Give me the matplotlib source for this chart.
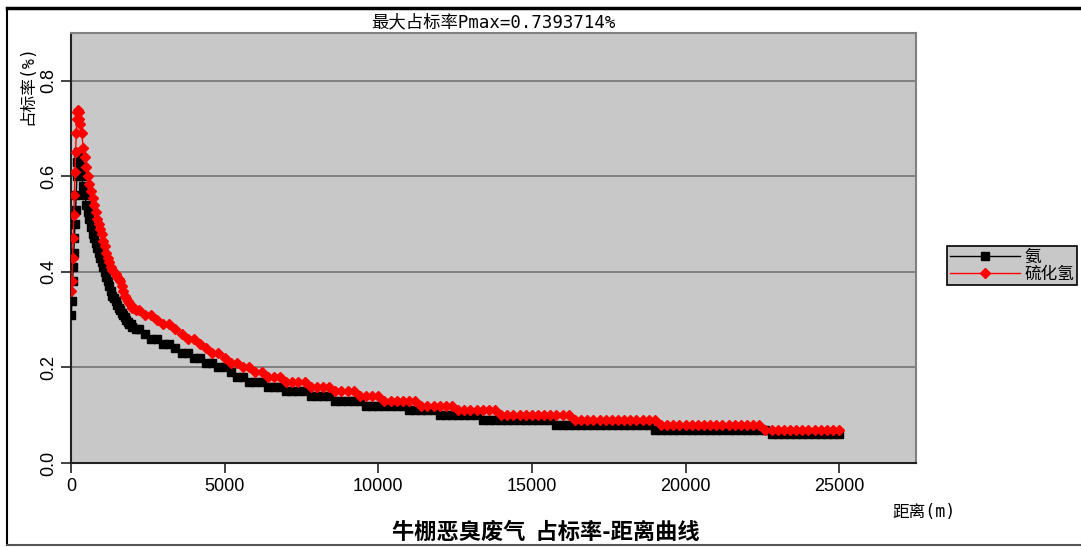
import matplotlib
matplotlib.use("Agg")
import matplotlib.pyplot as plt
from matplotlib.lines import Line2D

plt.rcParams['font.family'] = ['Liberation Sans', 'Noto Sans CJK SC', 'DejaVu Sans']

# distances (m): fine steps near the source, then the 200 m receptor grid
near_dist = ([10, 30, 50, 70, 90, 110, 130, 150, 170, 190, 210, 230, 250, 275]
             + list(range(300, 2001, 50)) + [2100])
far_dist = list(range(2200, 25001, 200))
dist = near_dist + far_dist

# 氨 (ammonia) occupancy rate, %
nh3_near = [0.31, 0.34, 0.38, 0.41, 0.44, 0.47, 0.50, 0.53, 0.56, 0.60, 0.63, 0.65,
            0.645, 0.63,
            0.62, 0.60, 0.58, 0.56, 0.54, 0.525, 0.51, 0.495, 0.48, 0.47,
            0.46, 0.45, 0.44, 0.43, 0.42, 0.41, 0.40, 0.39, 0.38, 0.37,
            0.36, 0.35, 0.345, 0.34, 0.33, 0.325, 0.32, 0.315, 0.31, 0.305,
            0.30, 0.295, 0.29, 0.29, 0.285,
            0.28]
nh3_far = [0.28, 0.27, 0.26, 0.26, 0.25, 0.25, 0.24, 0.23, 0.23, 0.22,
           0.22, 0.21, 0.21, 0.20, 0.20, 0.19, 0.18, 0.18, 0.17, 0.17,
           0.17, 0.16, 0.16, 0.16, 0.15, 0.15, 0.15, 0.15, 0.14,
           0.14, 0.14, 0.14,
           0.13, 0.13, 0.13, 0.13, 0.13,
           0.12, 0.12, 0.12, 0.12, 0.12, 0.12, 0.12,
           0.11, 0.11, 0.11, 0.11, 0.11,
           0.10, 0.10, 0.10, 0.10, 0.10, 0.10, 0.10,
           0.09, 0.09, 0.09, 0.09, 0.09, 0.09, 0.09, 0.09, 0.09, 0.09, 0.09, 0.09,
           0.08, 0.08, 0.08, 0.08, 0.08, 0.08, 0.08, 0.08,
           0.08, 0.08, 0.08, 0.08, 0.08, 0.08, 0.08, 0.08,
           0.07, 0.07, 0.07, 0.07, 0.07, 0.07, 0.07, 0.07, 0.07, 0.07,
           0.07, 0.07, 0.07, 0.07, 0.07, 0.07, 0.07, 0.07, 0.07,
           0.06, 0.06, 0.06, 0.06, 0.06, 0.06, 0.06, 0.06, 0.06, 0.06, 0.06, 0.06]

# 硫化氢 (hydrogen sulfide) occupancy rate, %
h2s_near = [0.36, 0.38, 0.43, 0.47, 0.52, 0.56, 0.61, 0.65, 0.69, 0.72, 0.735, 0.7394,
            0.735, 0.72,
            0.71, 0.69, 0.66, 0.64, 0.62, 0.60, 0.585, 0.57, 0.555, 0.54,
            0.525, 0.51, 0.50, 0.49, 0.48, 0.465, 0.455, 0.44, 0.43, 0.42,
            0.41, 0.405, 0.40, 0.395, 0.39, 0.385, 0.38, 0.37, 0.36, 0.35,
            0.345, 0.34, 0.335, 0.33, 0.325,
            0.32]
h2s_far = [0.32, 0.31, 0.31, 0.30, 0.29, 0.29, 0.28, 0.27, 0.26, 0.26,
           0.25, 0.24, 0.23, 0.23, 0.22, 0.21, 0.21, 0.20, 0.20, 0.19,
           0.19, 0.18, 0.18, 0.18, 0.17, 0.17, 0.17, 0.17,
           0.16, 0.16, 0.16, 0.16,
           0.15, 0.15, 0.15, 0.15,
           0.14, 0.14, 0.14, 0.14,
           0.13, 0.13, 0.13, 0.13, 0.13, 0.13,
           0.12, 0.12, 0.12, 0.12, 0.12, 0.12,
           0.11, 0.11, 0.11, 0.11, 0.11, 0.11, 0.11,
           0.10, 0.10, 0.10, 0.10, 0.10, 0.10, 0.10, 0.10, 0.10, 0.10, 0.10, 0.10,
           0.09, 0.09, 0.09, 0.09, 0.09, 0.09, 0.09, 0.09, 0.09, 0.09, 0.09, 0.09, 0.09, 0.09,
           0.08, 0.08, 0.08, 0.08, 0.08, 0.08, 0.08, 0.08, 0.08,
           0.08, 0.08, 0.08, 0.08, 0.08, 0.08, 0.08, 0.08,
           0.07, 0.07, 0.07, 0.07, 0.07, 0.07, 0.07, 0.07, 0.07, 0.07, 0.07, 0.07, 0.07]

nh3 = nh3_near + nh3_far
h2s = h2s_near + h2s_far

series_names = ["氨", "硫化氢"]
x_ticks = [0, 5000, 10000, 15000, 20000, 25000]
y_ticks = [0.0, 0.2, 0.4, 0.6, 0.8]
pmax = 0.7393714

cjk = ['Noto Sans CJK SC', 'DejaVu Sans']
mono_cjk = ['DejaVu Sans Mono', 'Noto Sans CJK SC']  # half-width latin like SimSun

fig = plt.figure(figsize=(10.81, 5.47), dpi=100)
ax = fig.add_axes([71/1081, 1 - 463/547, 845/1081, 430/547])
ax.set_facecolor("#c8c8c8")

ax.plot(dist, nh3, color="black", lw=1, marker="s", ms=6, mec="black", mfc="black", zorder=3)
ax.plot(dist, h2s, color="red", lw=1, marker="D", ms=5, mec="red", mfc="red", zorder=4)

ax.set_xlim(0, 27500)
ax.set_ylim(0, 0.9)
ax.set_xticks(x_ticks)
ax.set_yticks(y_ticks)
ax.set_yticklabels([f"{v:.1f}" for v in y_ticks], rotation=90, va="center")
ax.tick_params(axis="both", direction="out", length=7, width=1.2, color="#222222",
               labelsize=13, labelcolor="black")
ax.tick_params(axis="y", pad=3)
ax.grid(axis="y", color="#7a7a7a", lw=1.3)
ax.set_axisbelow(True)

for side in ["left", "bottom"]:
    ax.spines[side].set_color("#222222")
    ax.spines[side].set_linewidth(1.5)
for side in ["top", "right"]:
    ax.spines[side].set_color("#808080")
    ax.spines[side].set_linewidth(1.5)

# texts
fig.text(493/1081, 1 - 22/547, f"最大占标率Pmax={pmax}%", ha="center", va="center",
         fontsize=12.5, family=mono_cjk)
fig.text(27/1081, 1 - 85/547, "占标率(%)", ha="center", va="center", rotation=90,
         fontsize=12, family=mono_cjk)
fig.text(924/1081, 1 - 512/547, "距离(m)", ha="center", va="center",
         fontsize=12, family=mono_cjk)
fig.text(546/1081, 1 - 532/547, "牛棚恶臭废气  占标率-距离曲线", ha="center", va="center",
         fontsize=16, fontweight="bold", family=cjk)

# legend
handles = [Line2D([], [], color="black", lw=1, marker="s", ms=6),
           Line2D([], [], color="red", lw=1, marker="D", ms=5)]
leg = fig.legend(handles, series_names, loc="center left",
                 bbox_to_anchor=(947/1081, 1 - 265.5/547), frameon=True,
                 fancybox=False, prop={'family': cjk, 'size': 12},
                 handlelength=4.2, handletextpad=0.3, borderpad=0.15,
                 labelspacing=0.0, borderaxespad=0)
leg.get_frame().set_facecolor("#c8c8c8")
leg.get_frame().set_edgecolor("black")
leg.get_frame().set_linewidth(1.2)
leg.get_frame().set_alpha(1)

# outer frame of the chart
fig.add_artist(Line2D([7/1081, 1.0], [1 - 8/547, 1 - 8/547], transform=fig.transFigure,
                      color="black", lw=2.5))
fig.add_artist(Line2D([7/1081, 7/1081], [1 - 8/547, 1 - 545/547], transform=fig.transFigure,
                      color="black", lw=1.5))
fig.add_artist(Line2D([7/1081, 1.0], [1 - 545/547, 1 - 545/547], transform=fig.transFigure,
                      color="#555555", lw=1.5))

fig.savefig("out.png", dpi=100)
